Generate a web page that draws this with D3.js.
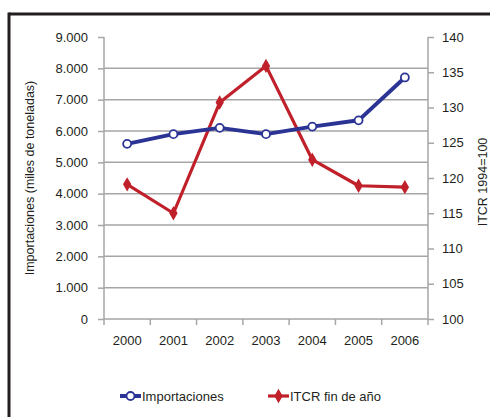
<!DOCTYPE html>
<html>
<head>
<meta charset="utf-8">
<script src="https://cdn.jsdelivr.net/npm/d3@7"></script>
<style>
  html, body { margin: 0; padding: 0; background: #fff; }
  svg { display: block; font-family: "Liberation Sans Narrow", "Arial Narrow", "Liberation Sans", Arial, sans-serif; }
</style>
</head>
<body>
<svg id="chart" width="490" height="417"></svg>
<script>
// Years on the category axis
const years = ["2000", "2001", "2002", "2003", "2004", "2005", "2006"];
// Imports, thousands of tonnes (left axis)
const importaciones = [5590, 5900, 6100, 5900, 6140, 6340, 7710];
// Real effective exchange rate index at year end, 1994=100 (right axis)
const itcr = [119.1, 115.0, 130.7, 135.9, 122.6, 118.9, 118.7];
// Tick values
const leftTicks = [0, 1000, 2000, 3000, 4000, 5000, 6000, 7000, 8000, 9000];
const rightTicks = [100, 105, 110, 115, 120, 125, 130, 135, 140];

const svg = d3.select("#chart");
const blue = "#2b3494";
const red = "#c0202a";
const grid = "#a6a6a6";

const plot = { left: 104, right: 428, top: 37, bottom: 319 };

// Outer frame: top and left rules
svg.append("line").attr("x1", 9).attr("x2", 490).attr("y1", 14).attr("y2", 14)
  .attr("stroke", "#231f20").attr("stroke-width", 3);
svg.append("line").attr("x1", 9).attr("x2", 9).attr("y1", 12.5).attr("y2", 417)
  .attr("stroke", "#231f20").attr("stroke-width", 3);

const x = d3.scaleBand().domain(years).range([plot.left, plot.right]);
const yL = d3.scaleLinear().domain([0, 9000]).range([plot.bottom, plot.top]);
const yR = d3.scaleLinear().domain([100, 140]).range([plot.bottom, plot.top]);

const fmt = d => d === 0 ? "0" : d3.format(",")(d).replace(/,/g, ".");

// Horizontal gridlines
svg.append("g").selectAll("line")
  .data(leftTicks.filter(t => t > 0 && t < 9000))
  .join("line")
  .attr("x1", plot.left).attr("x2", plot.right)
  .attr("y1", d => yL(d)).attr("y2", d => yL(d))
  .attr("stroke", grid).attr("stroke-width", 1.5);

// Left axis
const gL = svg.append("g").attr("transform", `translate(${plot.left},0)`)
  .call(d3.axisLeft(yL).tickValues(leftTicks).tickFormat(fmt).tickSize(6).tickPadding(10));
// Right axis
const gR = svg.append("g").attr("transform", `translate(${plot.right},0)`)
  .call(d3.axisRight(yR).tickValues(rightTicks).tickSize(6).tickPadding(8));
// Bottom axis with ticks at category boundaries
const gB = svg.append("g").attr("transform", `translate(0,${plot.bottom})`)
  .call(d3.axisBottom(x).tickSize(0).tickPadding(17));
gB.selectAll(".tick").append("line")
  .attr("x1", -x.bandwidth() / 2).attr("x2", -x.bandwidth() / 2)
  .attr("y1", 0).attr("y2", 6);
gB.append("line").attr("x1", x.bandwidth() * 0 + plot.right).attr("x2", plot.right)
  .attr("y1", 0).attr("y2", 6).attr("class", "endtick");

[gL, gR, gB].forEach(g => {
  g.selectAll("path.domain").attr("stroke", grid).attr("stroke-width", 1.5);
  g.selectAll("line").attr("stroke", grid).attr("stroke-width", 1.5);
  g.selectAll("text").attr("fill", "#231f20").attr("font-size", 13)
    .attr("font-family", "Liberation Sans Narrow, Arial Narrow, Liberation Sans, Arial, sans-serif");
});
gB.select("path.domain").attr("d", `M${plot.left},0H${plot.right}`);
gL.select("path.domain").attr("d", `M0,${plot.top}V${plot.bottom}`);
gR.select("path.domain").attr("d", `M0,${plot.top}V${plot.bottom}`);

// Axis titles
svg.append("text")
  .attr("transform", `translate(34,${(plot.top + plot.bottom) / 2}) rotate(-90)`)
  .attr("text-anchor", "middle").attr("font-size", 12.5).attr("fill", "#231f20")
  .text("Importaciones (miles de toneladas)");
svg.append("text")
  .attr("transform", `translate(487,${(plot.top + plot.bottom) / 2 + 4}) rotate(-90)`)
  .attr("text-anchor", "middle").attr("font-size", 12.5).attr("fill", "#231f20")
  .text("ITCR 1994=100");

const cx = d => x(d) + x.bandwidth() / 2;

// ITCR line with diamond markers
svg.append("path")
  .attr("d", d3.line().x((d, i) => cx(years[i])).y(d => yR(d))(itcr))
  .attr("fill", "none").attr("stroke", red).attr("stroke-width", 3.2).attr("stroke-linejoin", "round");
svg.append("g").selectAll("path")
  .data(itcr).join("path")
  .attr("transform", (d, i) => `translate(${cx(years[i])},${yR(d)})`)
  .attr("d", d3.symbol(d3.symbolDiamond, 60))
  .attr("fill", red);

// Imports line with open circle markers
svg.append("path")
  .attr("d", d3.line().x((d, i) => cx(years[i])).y(d => yL(d))(importaciones))
  .attr("fill", "none").attr("stroke", blue).attr("stroke-width", 4).attr("stroke-linejoin", "round");
svg.append("g").selectAll("circle")
  .data(importaciones).join("circle")
  .attr("cx", (d, i) => cx(years[i])).attr("cy", d => yL(d))
  .attr("r", 4).attr("fill", "#fff").attr("stroke", blue).attr("stroke-width", 1.8);

// Legend
const legend = svg.append("g").attr("font-size", 13).attr("fill", "#231f20");
const l1 = legend.append("g").attr("transform", "translate(120,396)");
l1.append("line").attr("x1", 0).attr("x2", 21).attr("stroke", blue).attr("stroke-width", 4);
l1.append("circle").attr("cx", 10.5).attr("r", 4).attr("fill", "#fff").attr("stroke", blue).attr("stroke-width", 1.8);
l1.append("text").attr("x", 22).attr("dy", "0.35em").text("Importaciones");
const l2 = legend.append("g").attr("transform", "translate(268,396)");
l2.append("line").attr("x1", 0).attr("x2", 21).attr("stroke", red).attr("stroke-width", 3.2);
l2.append("path").attr("transform", "translate(10.5,0)").attr("d", d3.symbol(d3.symbolDiamond, 60)).attr("fill", red);
l2.append("text").attr("x", 22).attr("dy", "0.35em").text("ITCR fin de año");
</script>
</body>
</html>
